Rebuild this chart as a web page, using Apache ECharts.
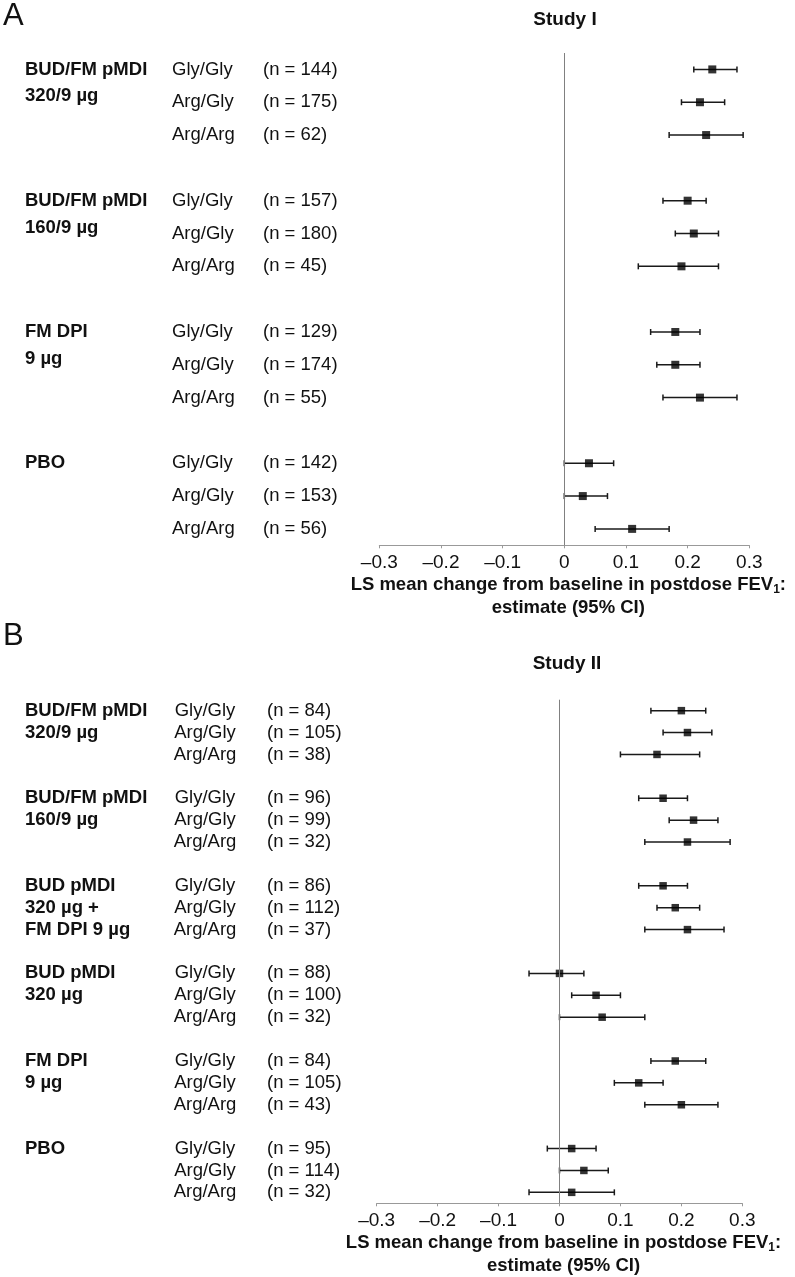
<!DOCTYPE html>
<html><head><meta charset="utf-8">
<script src="https://cdn.jsdelivr.net/npm/echarts@6/dist/echarts.min.js"></script>
<style>html,body{margin:0;padding:0;background:#fff}#c{width:795px;height:1277px}</style>
</head><body><div id="c"></div>
<script>
// ---------- data ----------
const genotypes = ["Gly/Gly", "Arg/Gly", "Arg/Arg"];

const studyIGroups = [["BUD/FM pMDI", "320/9 µg"], ["BUD/FM pMDI", "160/9 µg"], ["FM DPI", "9 µg"], ["PBO"]];
const studyIN    = [144, 175, 62, 157, 180, 45, 129, 174, 55, 142, 153, 56];
const studyIEst  = [0.24, 0.22, 0.23, 0.20, 0.21, 0.19, 0.18, 0.18, 0.22, 0.04, 0.03, 0.11];
const studyILow  = [0.21, 0.19, 0.17, 0.16, 0.18, 0.12, 0.14, 0.15, 0.16, 0.00, 0.00, 0.05];
const studyIHigh = [0.28, 0.26, 0.29, 0.23, 0.25, 0.25, 0.22, 0.22, 0.28, 0.08, 0.07, 0.17];

const studyIIGroups = [["BUD/FM pMDI", "320/9 µg"], ["BUD/FM pMDI", "160/9 µg"], ["BUD pMDI", "320 µg +", "FM DPI 9 µg"], ["BUD pMDI", "320 µg"], ["FM DPI", "9 µg"], ["PBO"]];
const studyIIN    = [84, 105, 38, 96, 99, 32, 86, 112, 37, 88, 100, 32, 84, 105, 43, 95, 114, 32];
const studyIIEst  = [0.20, 0.21, 0.16, 0.17, 0.22, 0.21, 0.17, 0.19, 0.21, 0.00, 0.06, 0.07, 0.19, 0.13, 0.20, 0.02, 0.04, 0.02];
const studyIILow  = [0.15, 0.17, 0.10, 0.13, 0.18, 0.14, 0.13, 0.16, 0.14, -0.05, 0.02, 0.00, 0.15, 0.09, 0.14, -0.02, 0.00, -0.05];
const studyIIHigh = [0.24, 0.25, 0.23, 0.21, 0.26, 0.28, 0.21, 0.23, 0.27, 0.04, 0.10, 0.14, 0.24, 0.17, 0.26, 0.06, 0.08, 0.09];

const xMin = -0.3, xMax = 0.3, xStep = 0.1;
const xTickLabels = {"-0.3": "–0.3", "-0.2": "–0.2", "-0.1": "–0.1", "0": "0", "0.1": "0.1", "0.2": "0.2", "0.3": "0.3"};
const axisTitle = "LS mean change from baseline in postdose FEV{sub|1}:\nestimate (95% CI)";

// ---------- build ----------
const FONT = "'Liberation Sans', Arial, sans-serif";
const TXT = "#111";

function buildRows(groups, n, est, low, high, panel) {
  const cats = [], labels = [], pts = [], cis = [];
  groups.forEach((g, gi) => {
    if (gi > 0) { cats.push("blank" + gi); labels.push(""); }
    genotypes.forEach((gt, k) => {
      const i = gi * 3 + k;
      const idx = cats.length;
      cats.push(panel + i);
      let gTok;
      if (panel === "A") {
        if (k === 0) gTok = "{g|" + g[0] + "}";
        else if (k === 1 && g[1]) gTok = "{g2|" + g[1] + "}";
        else gTok = "{g| }";
      } else {
        gTok = "{g|" + (g[k] || " ") + "}";
      }
      labels.push(gTok + "{s|" + gt + "}{n|(n = " + n[i] + ")}");
      pts.push([est[i], idx]);
      cis.push([low[i], high[i], idx]);
    });
  });
  return { cats, labels, pts, cis };
}

const A = buildRows(studyIGroups, studyIN, studyIEst, studyILow, studyIHigh, "A");
const B = buildRows(studyIIGroups, studyIIN, studyIIEst, studyIILow, studyIIHigh, "B");

const gridA = { left: 379.3, width: 370, top: 53, height: 492.3 };
const gridB = { left: 376.7, width: 365.6, top: 699.7, height: 503.6 };

function xAxisFor(gridIndex) {
  return {
    type: "value", gridIndex, min: xMin, max: xMax, interval: xStep,
    splitLine: { show: false },
    axisLine: { show: true, onZero: false, lineStyle: { color: "#999", width: 1 } },
    axisTick: { show: true, length: 3, lineStyle: { color: "#999" } },
    axisLabel: {
      fontSize: 19, fontFamily: FONT, color: TXT, margin: 8,
      formatter: v => xTickLabels[String(Math.round(v * 10) / 10)] ?? String(v)
    },
    name: axisTitle, nameLocation: "middle", nameGap: 24,
    nameTextStyle: {
      fontSize: 18.5, fontWeight: "bold", fontFamily: FONT, color: TXT, lineHeight: 23,
      verticalAlign: "top", padding: [0, 0, 0, 8],
      rich: { sub: { fontSize: 12, fontWeight: "bold", fontFamily: FONT, color: TXT, padding: [10, 0, 0, 0] } }
    }
  };
}

function yAxisFor(gridIndex, rows, grid, panel) {
  const rich = panel === "A" ? {
    g:  { fontSize: 18.5, fontWeight: "bold", fontFamily: FONT, color: TXT, width: 147 },
    g2: { fontSize: 18.5, fontWeight: "bold", fontFamily: FONT, color: TXT, width: 147, padding: [0, 0, 12, 0] },
    s:  { fontSize: 18.5, fontFamily: FONT, color: TXT, width: 91 },
    n:  { fontSize: 18.5, fontFamily: FONT, color: TXT }
  } : {
    g: { fontSize: 18.5, fontWeight: "bold", fontFamily: FONT, color: TXT, width: 118 },
    s: { fontSize: 18.5, fontFamily: FONT, color: TXT, width: 124, align: "center" },
    n: { fontSize: 18.5, fontFamily: FONT, color: TXT }
  };
  return {
    type: "category", gridIndex, data: rows.cats, inverse: true,
    axisLine: { show: false }, axisTick: { show: false }, splitLine: { show: false },
    axisLabel: {
      interval: 0, align: "left", margin: grid.left - 25,
      formatter: (v, i) => rows.labels[i], rich
    }
  };
}

function ciSeries(idx, rows, cap) {
  return {
    type: "custom", xAxisIndex: idx, yAxisIndex: idx, data: rows.cis,
    encode: { x: [0, 1], y: 2 }, clip: false, z: 3,
    renderItem: (params, api) => {
      const p1 = api.coord([api.value(0), api.value(2)]);
      const p2 = api.coord([api.value(1), api.value(2)]);
      const st = { stroke: "#1a1a1a", lineWidth: 1.5 };
      return { type: "group", children: [
        { type: "line", shape: { x1: p1[0], y1: p1[1], x2: p2[0], y2: p2[1] }, style: st },
        { type: "line", shape: { x1: p1[0], y1: p1[1] - cap, x2: p1[0], y2: p1[1] + cap }, style: st },
        { type: "line", shape: { x1: p2[0], y1: p2[1] - cap, x2: p2[0], y2: p2[1] + cap }, style: st }
      ]};
    }
  };
}

function ptSeries(idx, rows, size) {
  return {
    type: "scatter", xAxisIndex: idx, yAxisIndex: idx, data: rows.pts,
    symbol: "rect", symbolSize: size, itemStyle: { color: "#000" }, z: 4, silent: true,
    markLine: {
      silent: true, symbol: ["none", "none"], label: { show: false },
      lineStyle: { color: "#808080", type: "solid", width: 1 },
      data: [{ xAxis: 0 }], animation: false
    }
  };
}

const chart = echarts.init(document.getElementById("c"), null, { renderer: "canvas" });
chart.setOption({
  backgroundColor: "#fff",
  animation: false,
  grid: [
    Object.assign({ containLabel: false, outerBoundsMode: "none" }, gridA),
    Object.assign({ containLabel: false, outerBoundsMode: "none" }, gridB)
  ],
  xAxis: [xAxisFor(0), xAxisFor(1)],
  yAxis: [yAxisFor(0, A, gridA, "A"), yAxisFor(1, B, gridB, "B")],
  series: [ciSeries(0, A, 3), ptSeries(0, A, 8), ciSeries(1, B, 3), ptSeries(1, B, 7.5)],
  graphic: [
    { type: "text", x: 3, y: 16, style: { text: "A", font: "31px " + FONT, fill: TXT, align: "left", verticalAlign: "middle" } },
    { type: "text", x: 565, y: 20, style: { text: "Study I", font: "bold 19px " + FONT, fill: TXT, align: "center", verticalAlign: "middle" } },
    { type: "text", x: 3, y: 636, style: { text: "B", font: "31px " + FONT, fill: TXT, align: "left", verticalAlign: "middle" } },
    { type: "text", x: 567, y: 664, style: { text: "Study II", font: "bold 19px " + FONT, fill: TXT, align: "center", verticalAlign: "middle" } }
  ]
});
</script></body></html>
